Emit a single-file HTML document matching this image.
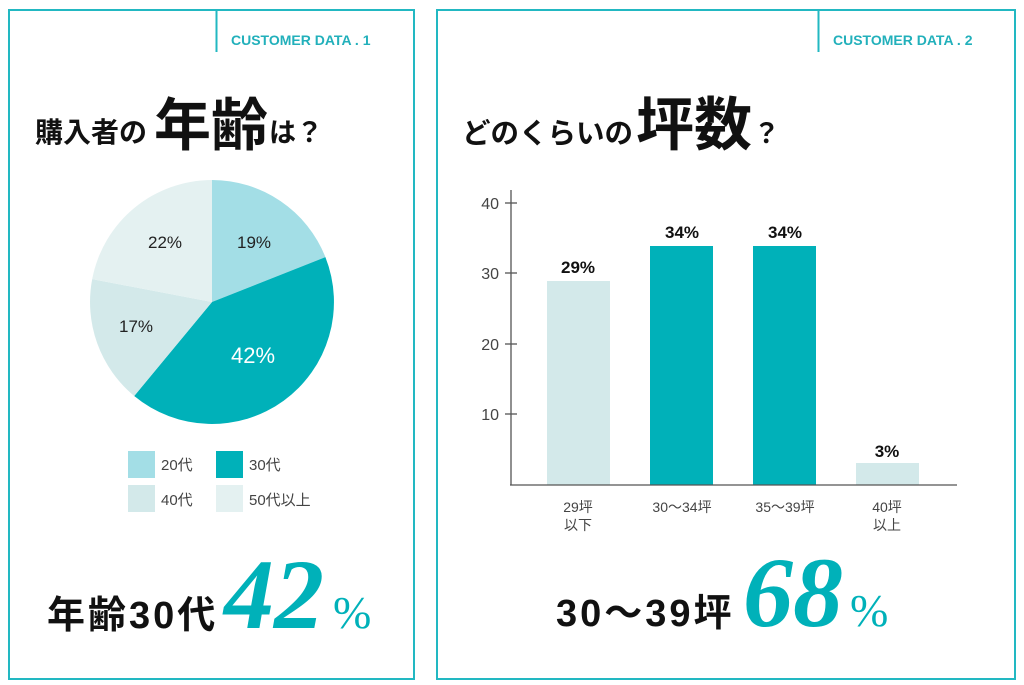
<!DOCTYPE html>
<html><head><meta charset="utf-8"><style>
html,body{margin:0;padding:0;background:#fff;}
svg{display:block}
.jp{font-family:"Liberation Sans","Noto Sans CJK JP",sans-serif;}
</style></head><body>
<svg width="1024" height="685" viewBox="0 0 1024 685" xmlns="http://www.w3.org/2000/svg">
<g fill="none" stroke="#22b8c2" stroke-width="2">
<rect x="9" y="10" width="405" height="669"/>
<rect x="437" y="10" width="578" height="669"/>
<line x1="216.5" y1="10" x2="216.5" y2="52"/>
<line x1="818.5" y1="10" x2="818.5" y2="52"/>
</g>
<g class="jp" font-weight="bold" fill="#22b0bb" font-size="14">
<text x="231" y="45">CUSTOMER DATA . 1</text>
<text x="833" y="45">CUSTOMER DATA . 2</text>
</g>
<g class="jp" font-weight="bold" fill="#111">
<text x="35" y="142" font-size="28">購入者の</text>
<text x="154" y="145" font-size="57">年齢</text>
<text x="269" y="142" font-size="27">は？</text>
<text x="462" y="143" font-size="28.5">どのくらいの</text>
<text x="636" y="145" font-size="58">坪数</text>
<text x="753" y="143" font-size="27">？</text>
</g>
<path d="M212,302 L212,180 A122,122 0 0 1 325.4,257.1 Z" fill="#a3dee6"/>
<path d="M212,302 L325.4,257.1 A122,122 0 0 1 134.2,396 Z" fill="#00b1b9"/>
<path d="M212,302 L134.2,396 A122,122 0 0 1 92.2,279.1 Z" fill="#d3e9ea"/>
<path d="M212,302 L92.2,279.1 A122,122 0 0 1 212,180 Z" fill="#e4f1f1"/>
<g class="jp" font-size="17" fill="#222" text-anchor="middle">
<text x="254" y="248">19%</text>
<text x="165" y="248">22%</text>
<text x="136" y="332">17%</text>
<text x="253" y="363" font-size="22" fill="#fff">42%</text>
</g>
<rect x="128" y="451" width="27" height="27" fill="#a3dee6"/>
<rect x="216" y="451" width="27" height="27" fill="#00b1b9"/>
<rect x="128" y="485" width="27" height="27" fill="#d3e9ea"/>
<rect x="216" y="485" width="27" height="27" fill="#e4f1f1"/>
<g class="jp" font-size="15" fill="#444">
<text x="161" y="470">20代</text>
<text x="249" y="470">30代</text>
<text x="161" y="505">40代</text>
<text x="249" y="505">50代以上</text>
</g>
<text class="jp" x="47" y="628" font-size="38" font-weight="bold" fill="#111" letter-spacing="3">年齢30代</text>
<text x="224" y="628" font-family="Liberation Serif,serif" font-style="italic" font-weight="bold" font-size="100" fill="#00b1b9">42</text>
<text x="333" y="628" font-family="Liberation Serif,serif" font-size="46" fill="#00b1b9">%</text>
<rect x="547" y="281" width="63" height="204" fill="#d3e9ea"/>
<rect x="650" y="246" width="63" height="239" fill="#00b1b9"/>
<rect x="753" y="246" width="63" height="239" fill="#00b1b9"/>
<rect x="856" y="463" width="63" height="22" fill="#d3e9ea"/>
<g stroke="#555" stroke-width="1.3">
<line x1="511" y1="190" x2="511" y2="485"/>
<line x1="510" y1="485" x2="957" y2="485"/>
<line x1="505" y1="203" x2="517" y2="203"/>
<line x1="505" y1="273" x2="517" y2="273"/>
<line x1="505" y1="344" x2="517" y2="344"/>
<line x1="505" y1="414" x2="517" y2="414"/>
</g>
<g class="jp" font-size="16" fill="#444" text-anchor="end">
<text x="499" y="209">40</text>
<text x="499" y="279">30</text>
<text x="499" y="350">20</text>
<text x="499" y="420">10</text>
</g>
<g class="jp" font-size="17" font-weight="bold" fill="#111" text-anchor="middle">
<text x="578" y="273">29%</text>
<text x="682" y="238">34%</text>
<text x="785" y="238">34%</text>
<text x="887" y="457">3%</text>
</g>
<g class="jp" font-size="14" fill="#444" text-anchor="middle">
<text x="578" y="512">29坪</text>
<text x="578" y="530">以下</text>
<text x="682" y="512">30～34坪</text>
<text x="785" y="512">35～39坪</text>
<text x="887" y="512">40坪</text>
<text x="887" y="530">以上</text>
</g>
<text class="jp" x="556" y="626" font-size="38" font-weight="bold" fill="#111" letter-spacing="3">30～39坪</text>
<text x="743" y="626" font-family="Liberation Serif,serif" font-style="italic" font-weight="bold" font-size="100" fill="#00b1b9">68</text>
<text x="850" y="626" font-family="Liberation Serif,serif" font-size="46" fill="#00b1b9">%</text>
</svg>
</body></html>
